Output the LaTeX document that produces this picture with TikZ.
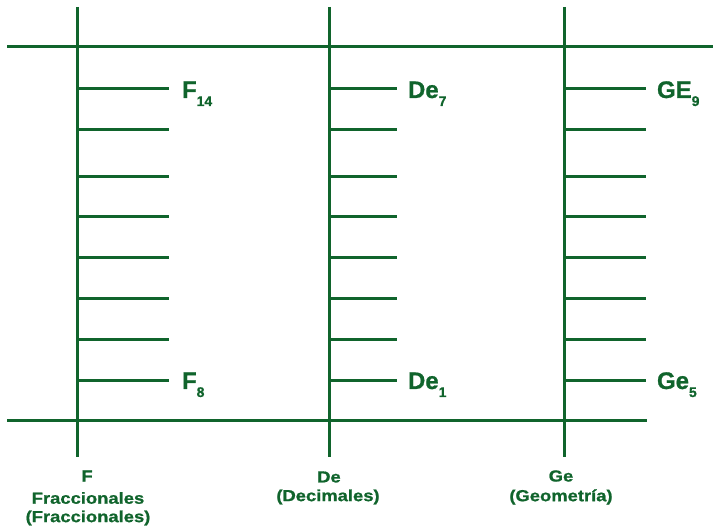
\documentclass[tikz,border=0pt]{standalone}
\usepackage{fontspec}
\newfontfamily\labfont[FakeBold=0.8]{Liberation Sans Bold}
\newfontfamily\botfont[FakeStretch=1.15,FakeBold=1.0]{Liberation Sans Bold}
\definecolor{tg}{RGB}{16,100,44}
\tikzset{
  ln/.style={draw=tg, line width=3pt},
  lab/.style={anchor=base west, inner sep=0pt, outer sep=0pt, text=tg, font=\labfont\fontsize{24}{24}\selectfont},
  cat/.style={anchor=center, inner sep=0pt, text=tg, font=\botfont\fontsize{16}{16}\selectfont},
}
\newcommand{\sbx}[1]{\raisebox{-8pt}{\fontsize{14}{14}\selectfont #1}}
\begin{document}
\begin{tikzpicture}[x=1pt,y=-1pt]
\useasboundingbox (0,0) rectangle (713,529);
% main axes
\coordinate (tl) at (7,47); \coordinate (tr) at (713,47);
\coordinate (bl) at (7,420.5); \coordinate (br) at (647,420.5);
\draw[ln] (tl) -- (tr);
\draw[ln] (bl) -- (br);
\foreach \n/\x/\e in {a/77.3/169, b/329/397, c/564/646}{
  \coordinate (\n top) at (\x,7);
  \coordinate (\n bot) at (\x,457);
  \draw[ln] (\n top) -- (\n bot);
  \foreach \y [count=\i] in {88.5,129.5,176.5,217,258,298.5,339.5,380.5}{
    \coordinate (\n s\i) at (\x,\y);
    \coordinate (\n t\i) at (\e,\y);
    \draw[ln] (\n s\i) -- (\n t\i);
  }
}
% tick labels
\node[lab] (f14) at (182,98) {F\sbx{14}};
\node[lab] (f8) at (182,389) {F\sbx{8}};
\node[lab] (de7) at (408,98) {De\sbx{7}};
\node[lab] (de1) at (408,389) {De\sbx{1}};
\node[lab] (ge9) at (657,98) {GE\sbx{9}};
\node[lab] (ge5) at (657,389) {Ge\sbx{5}};
% category labels
\node[cat] (fa) at (87,476) {F};
\node[cat] (fb) at (88,498) {Fraccionales};
\node[cat] (fc) at (88,518) {(Fraccionales)};
\node[cat] (da) at (329,477) {De};
\node[cat] (db) at (328,497) {(Decimales)};
\node[cat] (ga) at (561,476) {Ge};
\node[cat] (gb) at (561,497) {(Geometría)};
\end{tikzpicture}
\end{document}
